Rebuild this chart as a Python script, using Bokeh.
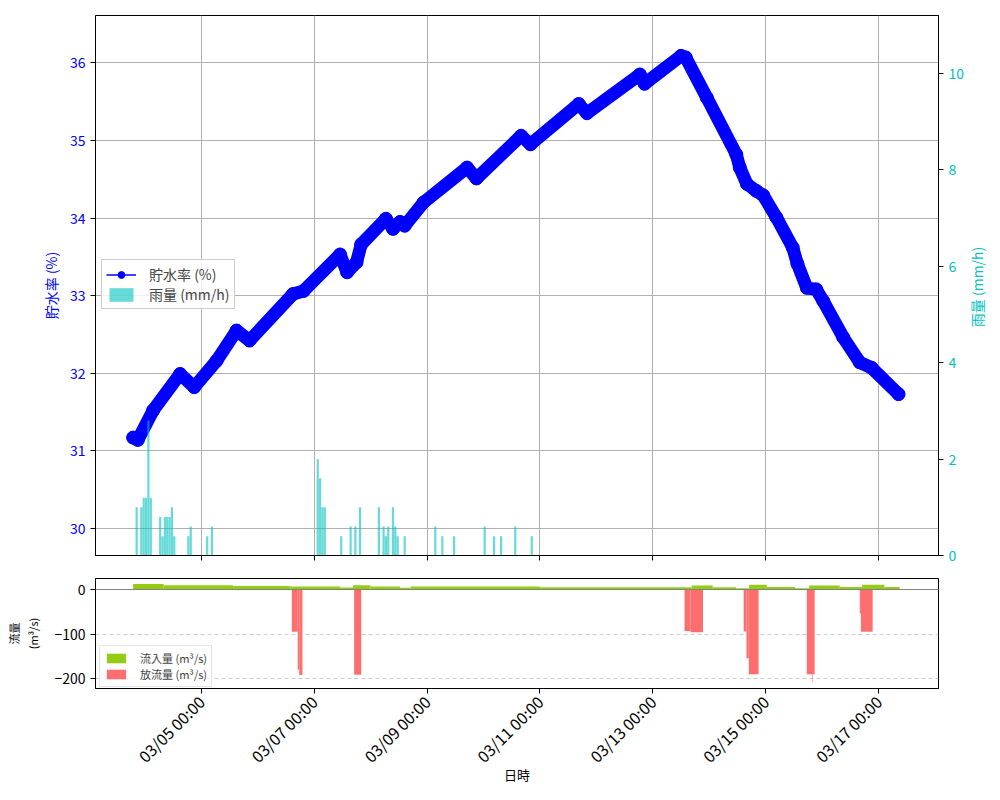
import math
import pandas as pd
from bokeh.plotting import figure
from bokeh.models import (Range1d, LinearAxis, FixedTicker, DatetimeTickFormatter, Label,
                          Legend, LegendItem, Span, ColumnDataSource, CustomJSTickFormatter)
from bokeh.layouts import column, row
from bokeh.embed import file_html
from bokeh.resources import INLINE

YEAR = "2025-"
FONT = "Noto Sans CJK JP"

# ---- data ----
storage_time = ["03-03 19:00", "03-03 21:00", "03-04 03:30", "03-04 15:00", "03-04 21:00",
                "03-05 06:30", "03-05 15:00", "03-05 20:30", "03-06 15:00", "03-06 19:30",
                "03-07 11:00", "03-07 14:00", "03-07 18:00", "03-07 20:00", "03-08 06:30",
                "03-08 09:30", "03-08 12:30", "03-08 14:30", "03-08 22:30", "03-09 17:00",
                "03-09 21:00", "03-10 16:00", "03-10 20:00", "03-11 16:30", "03-11 20:00",
                "03-12 18:30", "03-12 20:30", "03-13 12:00", "03-13 14:00", "03-13 23:00",
                "03-14 11:30", "03-14 13:00", "03-14 16:00", "03-14 20:00", "03-14 23:00",
                "03-15 04:30", "03-15 11:30", "03-15 13:30", "03-15 17:30", "03-15 21:30",
                "03-16 00:30", "03-16 09:00", "03-16 16:00", "03-16 21:00", "03-17 08:30"]
storage_pct = [31.17, 31.14, 31.52, 31.99, 31.82,
               32.16, 32.55, 32.42, 33.02, 33.06,
               33.53, 33.30, 33.43, 33.66, 33.99,
               33.86, 33.95, 33.90, 34.20, 34.65,
               34.51, 35.06, 34.95, 35.47, 35.35,
               35.85, 35.73, 36.09, 36.07, 35.55,
               34.82, 34.65, 34.44, 34.35, 34.29,
               34.01, 33.62, 33.41, 33.10, 33.08,
               32.93, 32.46, 32.14, 32.07, 31.73]

rain_time = ["03-03 20:30", "03-03 22:30", "03-03 23:30", "03-04 00:30", "03-04 01:30",
             "03-04 02:30", "03-04 06:30", "03-04 07:30", "03-04 08:30", "03-04 09:30",
             "03-04 10:30", "03-04 11:30", "03-04 12:30", "03-04 18:30", "03-04 19:30",
             "03-05 02:30", "03-05 04:30",
             "03-07 01:30", "03-07 02:30", "03-07 03:30", "03-07 04:30", "03-07 11:30",
             "03-07 15:30", "03-07 17:30", "03-07 19:30", "03-08 03:30", "03-08 05:30",
             "03-08 06:30", "03-08 07:30", "03-08 09:30", "03-08 10:30", "03-08 11:30",
             "03-08 14:30", "03-09 03:30", "03-09 06:30", "03-09 11:30", "03-10 00:30",
             "03-10 04:30", "03-10 07:30", "03-10 13:30", "03-10 20:30"]
rain_mm = [1.0, 1.0, 1.2, 1.2, 2.8,
           1.2, 0.8, 0.4, 0.8, 0.8,
           0.8, 1.0, 0.4, 0.4, 0.6,
           0.4, 0.6,
           2.0, 1.6, 1.0, 1.0, 0.4,
           0.6, 0.6, 1.0, 1.0, 0.6,
           0.4, 0.6, 1.0, 0.6, 0.4,
           0.4, 0.6, 0.4, 0.4, 0.6,
           0.4, 0.4, 0.6, 0.4]

inflow_start = ["03-03 19:00", "03-04 08:00", "03-05 13:30", "03-06 14:00", "03-07 11:00",
                "03-07 16:30", "03-08 00:00", "03-08 12:30", "03-08 17:00", "03-11 00:00",
                "03-13 16:30", "03-14 01:30", "03-14 11:30", "03-14 17:00", "03-15 00:30",
                "03-15 12:30", "03-15 18:30", "03-16 07:30", "03-16 17:00", "03-17 02:30"]
inflow_end = ["03-04 08:00", "03-05 13:30", "03-06 14:00", "03-07 11:00", "03-07 16:30",
              "03-08 00:00", "03-08 12:30", "03-08 17:00", "03-11 00:00", "03-13 16:30",
              "03-14 01:30", "03-14 11:30", "03-14 17:00", "03-15 00:30", "03-15 12:30",
              "03-15 18:30", "03-16 07:30", "03-16 17:00", "03-17 02:30", "03-17 09:00"]
inflow_m3s = [12.5, 9.5, 8.0, 7.0, 4.5, 9.5, 7.0, 4.0, 7.0, 5.0,
              9.0, 5.0, 3.0, 10.5, 5.5, 3.0, 9.0, 5.5, 10.5, 5.5]

outflow_start = ["03-06 14:30", "03-06 17:00", "03-06 17:40", "03-07 17:00", "03-13 13:30",
                 "03-13 16:00", "03-14 14:40", "03-14 15:50", "03-14 16:50", "03-15 17:30",
                 "03-15 19:40", "03-16 16:00", "03-16 16:30"]
outflow_end = ["03-06 17:00", "03-06 17:40", "03-06 19:00", "03-07 20:00", "03-13 16:00",
               "03-13 21:20", "03-14 15:50", "03-14 16:50", "03-14 21:00", "03-15 20:50",
               "03-15 19:55", "03-16 16:30", "03-16 21:30"]
outflow_m3s = [-95, -180, -192, -191, -93, -96, -94, -154, -190, -190, -208, -54, -95]

x_tick_dates = ["03-05 00:00", "03-07 00:00", "03-09 00:00", "03-11 00:00",
                "03-13 00:00", "03-15 00:00", "03-17 00:00"]
left_ticks = [30, 31, 32, 33, 34, 35, 36]
right_ticks = [0, 2, 4, 6, 8, 10]
flow_ticks = [-200, -100, 0]


def ts(s):
    return pd.Timestamp(YEAR + s)


def tlist(lst):
    return [ts(s) for s in lst]


def ms(t):
    return t.value // 10**6


x_range = Range1d(ts("03-03 03:00"), ts("03-18 01:30"))
tick_ms = [ms(ts(s)) for s in x_tick_dates]
fmt = "%m/%d %H:%M"
dt_fmt = DatetimeTickFormatter(microseconds=fmt, milliseconds=fmt, seconds=fmt, minsec=fmt,
                               minutes=fmt, hourmin=fmt, hours=fmt, days=fmt, months=fmt,
                               years=fmt)

FRAME_W, FRAME_H1, FRAME_H2 = 843, 540, 110
LEFT_B, TOP_B, BOT_B1 = 95, 15, 12


def style_axis(ax, color="black", size="14px"):
    ax.axis_line_color = "black"
    ax.major_tick_line_color = "black"
    ax.major_tick_out = 5
    ax.major_tick_in = 0
    ax.minor_tick_out = 0
    ax.minor_tick_in = 0
    ax.major_label_text_font = FONT
    ax.major_label_text_font_size = size
    ax.major_label_text_color = color
    ax.axis_label_text_font = FONT
    ax.axis_label_text_font_style = "normal"
    ax.axis_label_text_font_size = "14px"
    ax.axis_label_text_color = color


# ---------------- top figure ----------------
p1 = figure(x_axis_type="datetime", x_range=x_range, y_range=Range1d(29.65, 36.61),
            frame_width=FRAME_W, frame_height=FRAME_H1, min_border_left=LEFT_B,
            min_border_right=28, min_border_top=TOP_B, min_border_bottom=BOT_B1,
            output_backend="svg", toolbar_location=None)
p1.extra_y_ranges = {"rain": Range1d(0, 11.2)}
p1.outline_line_color = "black"
p1.outline_line_alpha = 1

ax_l = p1.left[0]
ax_l.ticker = FixedTicker(ticks=left_ticks)
ax_l.axis_label = "貯水率 (%)"
style_axis(ax_l, color="#0000ff")
ax_l.axis_label_standoff = 6

ax_r = LinearAxis(y_range_name="rain", ticker=FixedTicker(ticks=right_ticks))
style_axis(ax_r, color="#00bfbf")
p1.add_layout(ax_r, "right")

ax_b1 = p1.below[0]
ax_b1.ticker = FixedTicker(ticks=tick_ms)
ax_b1.formatter = CustomJSTickFormatter(code="return ''")
style_axis(ax_b1)
ax_b1.major_label_standoff = 0

for g in (p1.xgrid, p1.ygrid):
    g.grid_line_color = "#b0b0b0"
    g.grid_line_alpha = 1
    g.grid_line_width = 1

src_s = ColumnDataSource(dict(t=tlist(storage_time), v=storage_pct))
p1.line("t", "v", source=src_s, line_width=13, color="#0000ff",
        line_join="round", line_cap="round")
thin = p1.line("t", "v", source=src_s, line_width=1.5, color="#0000ff")
dots = p1.scatter("t", "v", source=src_s, size=13, color="#0000ff")

src_r = ColumnDataSource(dict(t=tlist(rain_time), v=rain_mm))
rain_r = p1.vbar(x="t", top="v", bottom=0, width=3.4e6, source=src_r,
                 fill_color="#00bfbf", fill_alpha=0.6, line_color=None,
                 y_range_name="rain")

leg1 = Legend(items=[LegendItem(label="貯水率 (%)", renderers=[thin, dots]),
                     LegendItem(label="雨量 (mm/h)", renderers=[rain_r])],
              location=(6, 246))
leg1.label_text_font = FONT
leg1.label_text_font_size = "14px"
leg1.glyph_width = 30
leg1.glyph_height = 17
leg1.label_height = 17
leg1.label_standoff = 13
leg1.padding = 4
leg1.spacing = 0
leg1.margin = 0
leg1.border_line_color = "#cccccc"
leg1.border_line_alpha = 1
leg1.background_fill_alpha = 0.8
p1.add_layout(leg1)

# narrow strip carrying the right-hand axis title, read bottom-to-top
TOTAL_H1 = TOP_B + FRAME_H1 + BOT_B1
side = figure(width=20, height=TOTAL_H1, x_range=Range1d(0, 1), y_range=Range1d(0, TOTAL_H1),
              min_border=0, x_axis_location=None, y_axis_location=None,
              output_backend="svg", toolbar_location=None)
side.outline_line_color = None
side.xgrid.visible = False
side.ygrid.visible = False
side.add_layout(Label(x=0.45, y=BOT_B1 + FRAME_H1 / 2, text="雨量 (mm/h)", angle=math.pi / 2,
                      text_align="center", text_baseline="middle", text_color="#00bfbf",
                      text_font=FONT, text_font_size="14px"))

# ---------------- bottom figure ----------------
p2 = figure(x_axis_type="datetime", x_range=x_range, y_range=Range1d(-222, 24.7),
            frame_width=FRAME_W, frame_height=FRAME_H2, min_border_left=LEFT_B,
            min_border_right=48, min_border_top=11, min_border_bottom=90,
            output_backend="svg", toolbar_location=None)
p2.outline_line_color = "black"
p2.outline_line_alpha = 1

ax_l2 = p2.left[0]
ax_l2.ticker = FixedTicker(ticks=flow_ticks)
ax_l2.axis_label = "流量\n(m³/s)"
style_axis(ax_l2)
ax_l2.axis_label_text_font_size = "11px"
ax_l2.axis_label_standoff = 10

ax_b2 = p2.below[0]
ax_b2.ticker = FixedTicker(ticks=tick_ms)
ax_b2.formatter = dt_fmt
ax_b2.axis_label = "日時"
style_axis(ax_b2, size="16px")
ax_b2.axis_label_text_font_size = "13px"
ax_b2.major_label_orientation = math.pi / 4
ax_b2.axis_label_standoff = -14

p2.xgrid.visible = False
p2.ygrid.grid_line_color = "#cccccc"
p2.ygrid.grid_line_dash = "4 3"
p2.ygrid.grid_line_alpha = 1

src_in = ColumnDataSource(dict(l=tlist(inflow_start), r=tlist(inflow_end), v=inflow_m3s))
in_r = p2.quad(left="l", right="r", bottom=0, top="v", source=src_in,
               fill_color="#94cc14", line_color=None)
src_out = ColumnDataSource(dict(l=tlist(outflow_start), r=tlist(outflow_end), v=outflow_m3s))
out_r = p2.quad(left="l", right="r", bottom=0, top="v", source=src_out,
                fill_color="#ff6e6e", line_color=None)
p2.add_layout(Span(location=0, dimension="width", line_color="#808080", line_width=1))

leg2 = Legend(items=[LegendItem(label="流入量 (m³/s)", renderers=[in_r]),
                     LegendItem(label="放流量 (m³/s)", renderers=[out_r])],
              location=(4, 1))
leg2.label_text_font = FONT
leg2.label_text_font_size = "11px"
leg2.glyph_width = 24
leg2.glyph_height = 12
leg2.label_height = 12
leg2.label_standoff = 12
leg2.padding = 4
leg2.spacing = 0
leg2.margin = 0
leg2.border_line_color = "#cccccc"
leg2.background_fill_alpha = 0.8
p2.add_layout(leg2)

layout = column(row(p1, side), p2)
open("out.html", "w").write(file_html(layout, INLINE))
